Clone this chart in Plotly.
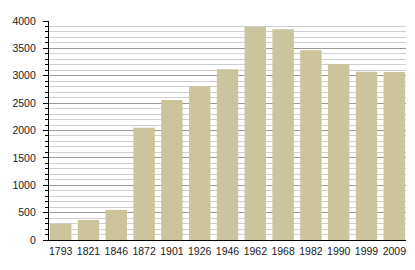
import plotly.graph_objects as go

years = ["1793", "1821", "1846", "1872", "1901", "1926", "1946", "1962", "1968", "1982", "1990", "1999", "2009"]
population = [295, 365, 550, 2050, 2555, 2810, 3120, 3892, 3850, 3467, 3212, 3071, 3068]

bar_color = "#CCC49C"

fig = go.Figure()
fig.add_trace(go.Bar(x=years, y=population, marker=dict(color=bar_color, line=dict(width=0))))

fig.update_layout(
    width=415, height=270,
    margin=dict(l=49, r=9, t=21, b=30),
    paper_bgcolor="white", plot_bgcolor="white",
    bargap=0.23,
    showlegend=False,
    font=dict(family="Liberation Sans, Arial, sans-serif", size=11, color="#1a1a1a"),
)
fig.update_xaxes(
    type="category", range=[-0.42, 12.42],
    showline=True, linecolor="black", linewidth=1.3,
    ticks="", showgrid=False,
    ticklabelstandoff=1,
    tickfont=dict(family="Liberation Sans Narrow, Arial Narrow, Liberation Sans, sans-serif", size=10.5),
)
fig.update_yaxes(
    range=[0, 4000], dtick=500, tick0=0,
    showline=True, linecolor="black", linewidth=1.3,
    ticks="outside", ticklen=5, tickcolor="black", tickwidth=1,
    showgrid=True, gridcolor="#9a9a9a", gridwidth=1,
    zeroline=False,
    ticklabelstandoff=5,
    minor=dict(dtick=100, ticks="outside", ticklen=3, tickcolor="black",
               showgrid=True, gridcolor="#cfcfcf", gridwidth=1),
    tickfont=dict(size=10.5),
)

fig.write_html("out.html")
